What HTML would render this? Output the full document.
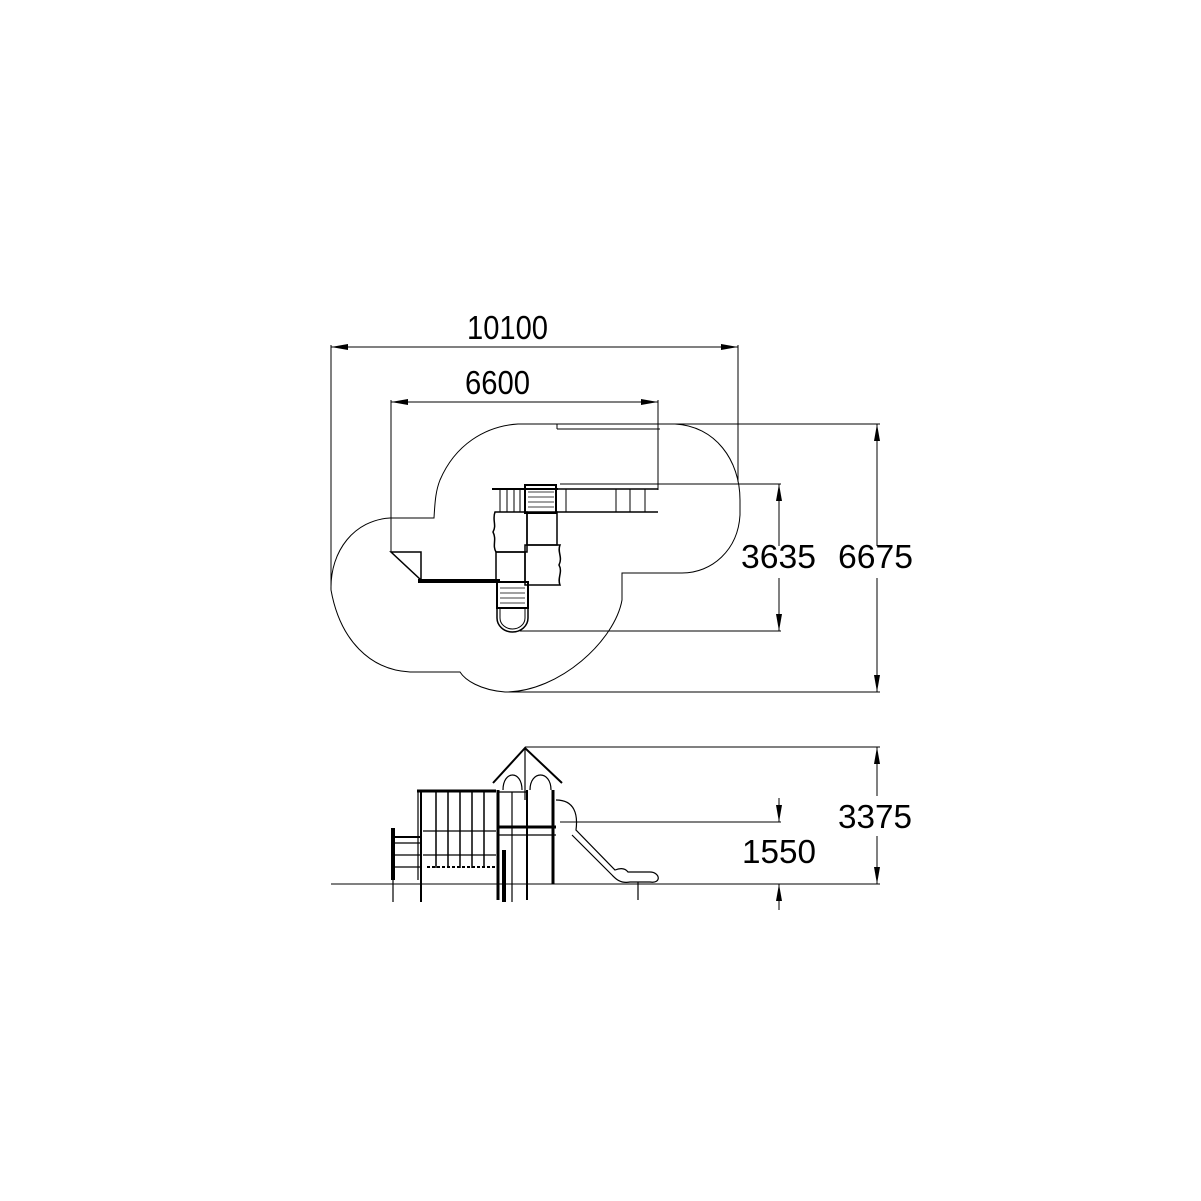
<!DOCTYPE html>
<html><head><style>html,body{margin:0;padding:0;background:#fff}svg{display:block}</style></head>
<body>
<svg width="1201" height="1201" viewBox="0 0 1201 1201" xmlns="http://www.w3.org/2000/svg" font-family="Liberation Sans, sans-serif" fill="none" stroke="#000" stroke-width="1">
<defs>
<marker id="a" viewBox="0 0 17 6" refX="17" refY="3" markerWidth="17" markerHeight="6" markerUnits="userSpaceOnUse" orient="auto-start-reverse"><path d="M0,0 L17,3 L0,6 Z" fill="#000" stroke="none"/></marker>
</defs>
<!-- dimensions plan -->
<line x1="331" y1="347" x2="738" y2="347" marker-start="url(#a)" marker-end="url(#a)"/>
<line x1="331" y1="345" x2="331" y2="590"/>
<line x1="738" y1="345" x2="738" y2="482"/>
<line x1="391" y1="402" x2="658" y2="402" marker-start="url(#a)" marker-end="url(#a)"/>
<line x1="391" y1="400" x2="391" y2="552"/>
<line x1="658" y1="400" x2="658" y2="490"/>
<line x1="560" y1="484" x2="781" y2="484"/>
<line x1="520" y1="631" x2="781" y2="631"/>
<line x1="779" y1="484" x2="779" y2="546"/>
<line x1="779" y1="578" x2="779" y2="631" marker-end="url(#a)"/>
<line x1="779" y1="546" x2="779" y2="484" marker-end="url(#a)"/>
<line x1="557" y1="424" x2="880" y2="424"/>
<line x1="505" y1="692" x2="880" y2="692"/>
<line x1="877" y1="546" x2="877" y2="424" marker-end="url(#a)"/>
<line x1="877" y1="578" x2="877" y2="692" marker-end="url(#a)"/>
<g fill="#000" stroke="none" font-size="33">
<text x="467" y="339" textLength="81" lengthAdjust="spacingAndGlyphs">10100</text>
<text x="465" y="394" textLength="65" lengthAdjust="spacingAndGlyphs">6600</text>
<text x="741" y="568" textLength="75" lengthAdjust="spacingAndGlyphs">3635</text>
<text x="838" y="568" textLength="75" lengthAdjust="spacingAndGlyphs">6675</text>
<text x="838" y="828" textLength="74" lengthAdjust="spacingAndGlyphs">3375</text>
<text x="742" y="863" textLength="74" lengthAdjust="spacingAndGlyphs">1550</text>
</g>
<!-- outline -->
<path d="M518,424 L675,424 C715,426 740,460 740,500 L740,515 C738,550 712,573 682,573 L622,573 L622,600 C615,640 560,692 505,692 C480,690 465,680 460,672 L410,672 C370,670 340,640 331,590 C330,550 355,520 390,518 L434,518 C435,500 436,490 440,480 C455,445 485,426 518,424 Z"/>
<line x1="557" y1="424" x2="557" y2="429"/><line x1="557" y1="429" x2="660" y2="429"/>
<!-- plan equipment -->
<line x1="492" y1="489" x2="558" y2="489" stroke-width="2"/>
<line x1="500" y1="489" x2="500" y2="512"/><line x1="507" y1="489" x2="507" y2="512"/><line x1="514" y1="489" x2="514" y2="512"/><line x1="520" y1="489" x2="520" y2="512"/>
<rect x="525" y="485" width="31" height="28" stroke-width="2"/>
<g stroke-width="0.8"><line x1="528" y1="492" x2="554" y2="492"/><line x1="528" y1="497" x2="554" y2="497"/><line x1="528" y1="502" x2="554" y2="502"/><line x1="528" y1="507" x2="554" y2="507"/></g>
<line x1="556" y1="489" x2="658" y2="489" stroke-width="1.5"/><line x1="556" y1="512" x2="658" y2="512" stroke-width="1.5"/>
<line x1="566" y1="489" x2="566" y2="512"/><line x1="616" y1="489" x2="616" y2="512"/><line x1="630" y1="489" x2="630" y2="512"/><line x1="645" y1="489" x2="645" y2="512"/>
<path d="M495,512 L527,512 L527,552 L496,552 C492,545 497,540 493,532 C497,525 492,520 495,512Z" stroke-width="1.5"/>
<rect x="527" y="512" width="30" height="33" stroke-width="1.5"/>
<path d="M525,545 L560,545 C557,552 563,557 559,565 C563,572 557,578 560,585 L525,585 Z" stroke-width="1.5"/>
<rect x="496" y="552" width="29" height="30" stroke-width="1.5"/>
<rect x="497" y="582" width="31" height="26" stroke-width="2"/>
<g stroke-width="0.8"><line x1="500" y1="588" x2="525" y2="588"/><line x1="500" y1="593" x2="525" y2="593"/><line x1="500" y1="598" x2="525" y2="598"/><line x1="500" y1="603" x2="525" y2="603"/></g>
<path d="M497,608 L497,618 A15.5,14 0 0 0 528,618 L528,608" stroke-width="1.5"/>
<path d="M500,608 L500,618 A12.5,11 0 0 0 525,618 L525,608"/>
<line x1="418" y1="581" x2="500" y2="581" stroke-width="4"/>
<path d="M391,552 L421,552 L421,580 Z" stroke-width="1.5"/>
<!-- elevation dims -->
<line x1="331" y1="884" x2="880" y2="884"/>
<line x1="525" y1="747" x2="880" y2="747"/>
<line x1="560" y1="822" x2="781" y2="822"/>
<line x1="877" y1="796" x2="877" y2="747" marker-end="url(#a)"/>
<line x1="877" y1="836" x2="877" y2="884" marker-end="url(#a)"/>
<line x1="779" y1="798" x2="779" y2="822" marker-end="url(#a)"/>
<line x1="779" y1="910" x2="779" y2="884" marker-end="url(#a)"/>
<!-- elevation equipment -->
<g stroke-width="1.2">
<path d="M493,783 L525,748 L562,783" stroke-width="2"/>
<line x1="525" y1="748" x2="525" y2="800"/>
<path d="M503,790 C503,770 522,770 522,790"/><path d="M530,790 C530,770 551,770 551,790"/>
<line x1="498" y1="790" x2="498" y2="900" stroke-width="3"/>
<line x1="527" y1="790" x2="527" y2="900" stroke-width="2"/>
<line x1="553" y1="790" x2="553" y2="884" stroke-width="3"/>
<line x1="512" y1="792" x2="512" y2="902"/>
<line x1="504" y1="850" x2="504" y2="902" stroke-width="4"/>
<line x1="498" y1="792" x2="527" y2="792"/>
<line x1="498" y1="827" x2="556" y2="827" stroke-width="3"/>
<line x1="498" y1="835" x2="556" y2="835"/>
<line x1="417" y1="791" x2="496" y2="791" stroke-width="3"/>
<line x1="421" y1="791" x2="421" y2="902" stroke-width="2"/>
<line x1="418" y1="791" x2="418" y2="880"/>
<g stroke-width="1.5"><line x1="436" y1="792" x2="436" y2="868"/><line x1="448" y1="792" x2="448" y2="868"/><line x1="460" y1="792" x2="460" y2="868"/><line x1="472" y1="792" x2="472" y2="868"/><line x1="484" y1="792" x2="484" y2="868"/></g>
<line x1="423" y1="831" x2="496" y2="831"/><line x1="423" y1="855" x2="496" y2="855"/>
<line x1="427" y1="867" x2="496" y2="867" stroke-dasharray="3,2" stroke-width="2"/>
<line x1="393" y1="828" x2="393" y2="880" stroke-width="4"/>
<line x1="393" y1="880" x2="393" y2="902"/>
<line x1="395" y1="837" x2="420" y2="837" stroke-width="2"/><line x1="395" y1="843" x2="420" y2="843"/>
<line x1="395" y1="855" x2="420" y2="855"/><line x1="395" y1="867" x2="420" y2="867"/>
<path d="M556,800 C575,800 578,815 576,830 L615,870 C620,868 625,868 628,872 L650,872 C660,872 662,884 650,882 L630,882 C620,884 615,878 612,875 L572,835"/>
<line x1="638" y1="882" x2="638" y2="900"/>
</g>
</svg>
</body></html>
